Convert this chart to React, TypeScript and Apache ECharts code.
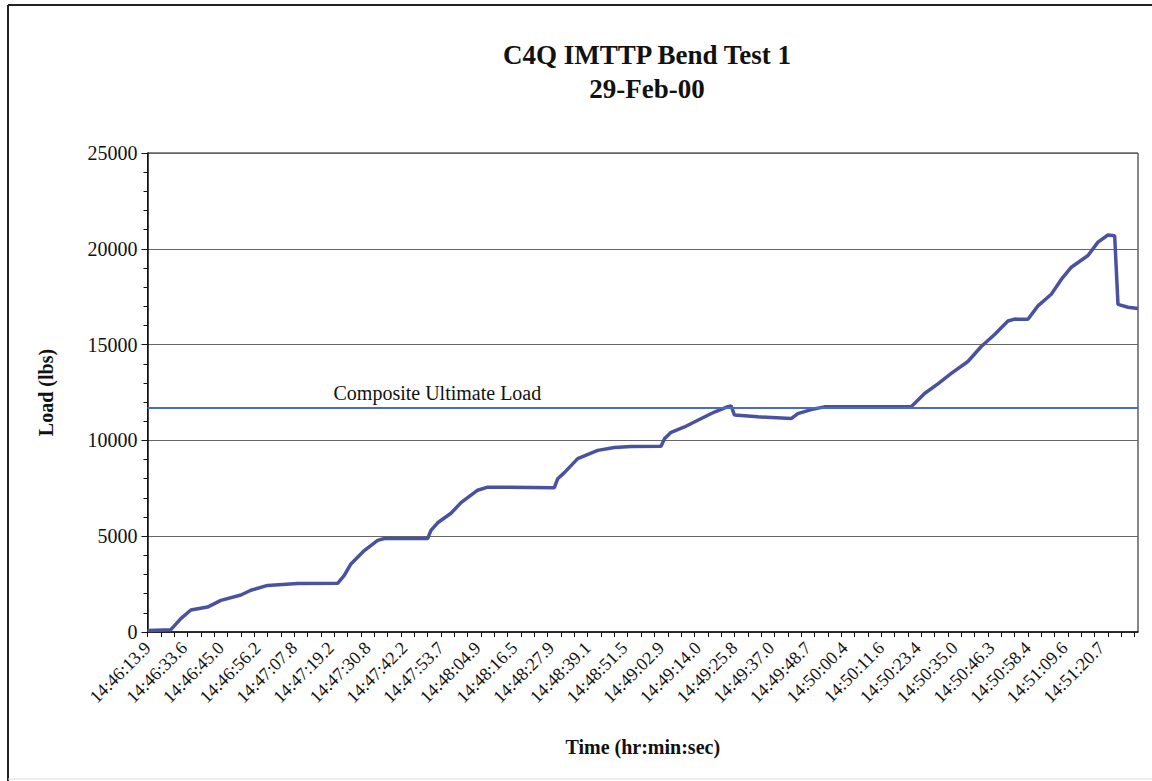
import React, { useEffect, useRef } from "react";
import * as echarts from "echarts";

const titleLines = ["C4Q IMTTP Bend Test 1", "29-Feb-00"];
const xAxisTitle = "Time (hr:min:sec)";
const yAxisTitle = "Load (lbs)";

// Labelled sample times (one label every 11 samples)
const timeLabels = [
  "14:46:13.9", "14:46:33.6", "14:46:45.0", "14:46:56.2", "14:47:07.8",
  "14:47:19.2", "14:47:30.8", "14:47:42.2", "14:47:53.7", "14:48:04.9",
  "14:48:16.5", "14:48:27.9", "14:48:39.1", "14:48:51.5", "14:49:02.9",
  "14:49:14.0", "14:49:25.8", "14:49:37.0", "14:49:48.7", "14:50:00.4",
  "14:50:11.6", "14:50:23.4", "14:50:35.0", "14:50:46.3", "14:50:58.4",
  "14:51:09.6", "14:51:20.7",
];
const samplesPerLabel = 11;
const sampleCount = 298;

// [sample index, load (lbs)]
const loadPoints: [number, number][] = [
  [0, 80], [7, 120], [10, 700], [13, 1150], [18, 1300], [22, 1650], [28, 1930],
  [31, 2180], [36, 2430], [45, 2530], [57, 2540], [59, 2950], [61, 3550],
  [65, 4250], [69, 4780], [71, 4880], [84, 4880], [85, 5300], [87, 5700],
  [91, 6200], [94, 6750], [99, 7400], [102, 7560], [122, 7530], [123, 8000],
  [125, 8320], [129, 9050], [135, 9480], [140, 9630], [145, 9680], [154, 9700],
  [155, 10080], [157, 10420], [161, 10700], [165, 11050], [170, 11480],
  [174, 11760], [175, 11800], [176, 11320], [183, 11230], [193, 11140],
  [195, 11400], [199, 11610], [203, 11750], [229, 11760], [233, 12450],
  [237, 12950], [241, 13500], [246, 14120], [250, 14900], [254, 15530],
  [258, 16230], [260, 16330], [264, 16320], [267, 17020], [271, 17630],
  [274, 18400], [277, 19040], [282, 19650], [285, 20350], [288, 20720],
  [290, 20680], [291, 17100], [294, 16950], [297, 16880],
];

const ultimateLoad = 11720;
const ultimateLabel = "Composite Ultimate Load";

const yMin = 0;
const yMax = 25000;
const yInterval = 5000;

const FONT = "'Liberation Serif', 'Times New Roman', serif";

export default function App() {
  const ref = useRef<HTMLDivElement>(null);

  useEffect(() => {
    if (!ref.current) return;
    const chart = echarts.init(ref.current, undefined, { renderer: "svg" });

    const categories = Array.from({ length: sampleCount }, (_, i) =>
      i % samplesPerLabel === 0 && timeLabels[i / samplesPerLabel]
        ? timeLabels[i / samplesPerLabel]
        : ""
    );

    chart.setOption({
      animation: false,
      backgroundColor: "#fff",
      textStyle: { fontFamily: FONT },
      title: {
        text: titleLines.join("\n"),
        left: 642,
        top: 33,
        textAlign: "center",
        textStyle: {
          fontFamily: FONT,
          fontWeight: "bold",
          fontSize: 27,
          lineHeight: 34,
          color: "#111",
        },
      },
      grid: {
        left: 147.5,
        right: 14,
        top: 153,
        bottom: 149,
        show: true,
        borderColor: "#111",
        borderWidth: 1,
        containLabel: false,
      },
      xAxis: {
        type: "category",
        data: categories,
        boundaryGap: false,
        name: xAxisTitle,
        nameLocation: "middle",
        nameGap: 105,
        nameTextStyle: {
          fontFamily: FONT,
          fontWeight: "bold",
          fontSize: 20,
          color: "#111",
        },
        axisLine: { show: true, lineStyle: { color: "#111", width: 1.5 } },
        axisTick: {
          show: true,
          interval: 3,
          length: 5,
          lineStyle: { color: "#111" },
        },
        axisLabel: {
          interval: samplesPerLabel - 1,
          rotate: 45,
          margin: 13,
          fontFamily: FONT,
          fontSize: 18,
          color: "#111",
        },
        splitLine: { show: false },
      },
      yAxis: {
        type: "value",
        min: yMin,
        max: yMax,
        interval: yInterval,
        name: yAxisTitle,
        nameLocation: "middle",
        nameRotate: 90,
        nameGap: 92,
        nameTextStyle: {
          fontFamily: FONT,
          fontWeight: "bold",
          fontSize: 20,
          color: "#111",
        },
        axisLine: { show: true, lineStyle: { color: "#111", width: 1.5 } },
        axisTick: { show: true, length: 6, lineStyle: { color: "#111" } },
        minorTick: {
          show: true,
          splitNumber: 5,
          length: 4,
          lineStyle: { color: "#111" },
        },
        axisLabel: {
          margin: 10,
          fontFamily: FONT,
          fontSize: 20,
          color: "#111",
          formatter: (v: number) => String(v),
        },
        splitLine: { show: true, lineStyle: { color: "#666", width: 1 } },
      },
      series: [
        {
          name: "Load",
          type: "line",
          data: loadPoints,
          showSymbol: false,
          symbol: "none",
          lineStyle: { color: "#4a52a0", width: 3.5 },
          z: 3,
          markLine: {
            silent: true,
            symbol: "none",
            lineStyle: { color: "#4a6cc6", width: 2, type: "solid" },
            label: {
              show: true,
              position: "insideStartTop",
              formatter: "{pad|}{t|" + ultimateLabel + "}",
              distance: 4,
              rich: {
                pad: { width: 182 },
                t: { fontFamily: FONT, fontSize: 20, color: "#111" },
              },
            },
            data: [{ yAxis: ultimateLoad, name: ultimateLabel }],
          },
        },
      ],
      graphic: [
        {
          type: "line",
          shape: { x1: 8, y1: 5, x2: 1152, y2: 5 },
          style: { stroke: "#222", lineWidth: 2 },
        },
        {
          type: "line",
          shape: { x1: 8, y1: 5, x2: 8, y2: 781 },
          style: { stroke: "#222", lineWidth: 2 },
        },
        {
          type: "line",
          shape: { x1: 8, y1: 779, x2: 1152, y2: 779 },
          style: { stroke: "#ddd", lineWidth: 1 },
        },
      ],
    });

    return () => chart.dispose();
  }, []);

  return (
    <div
      ref={ref}
      style={{ position: "fixed", left: 0, top: 0, width: 1152, height: 781 }}
    />
  );
}
